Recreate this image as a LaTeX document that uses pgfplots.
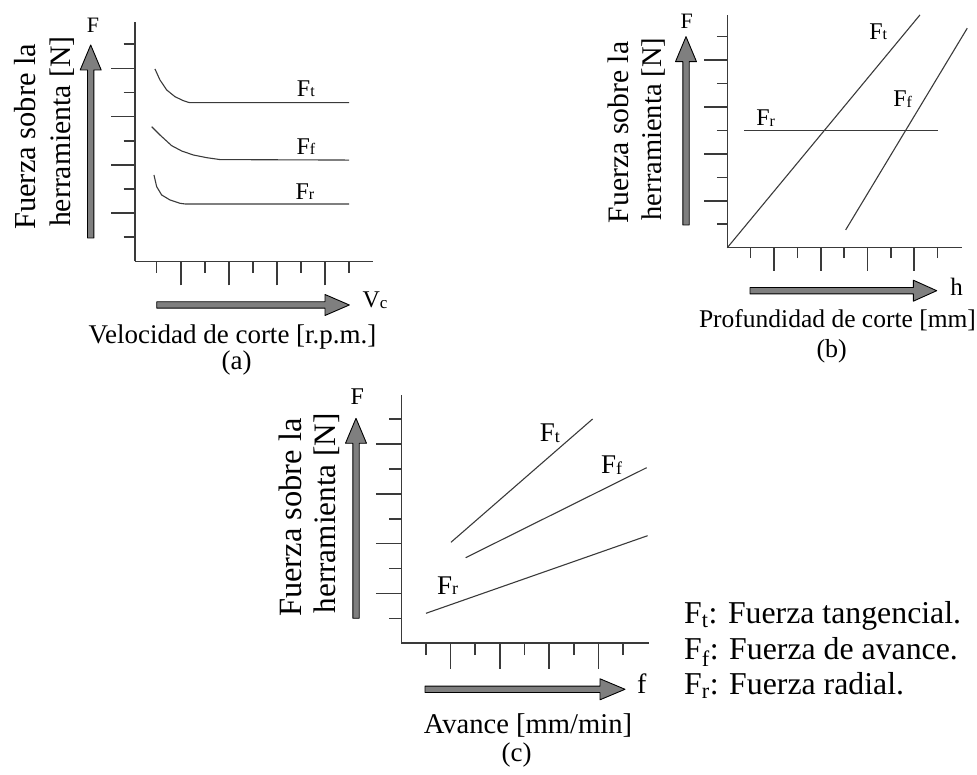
\documentclass[border=0pt]{standalone}
\usepackage{pgfplots}
\pgfplotsset{compat=1.18}
\usepackage{fontspec}
\setmainfont{Liberation Serif}
\definecolor{axgray}{HTML}{3A3A3A}
\definecolor{crv}{HTML}{3A3A3A}
\definecolor{arrfill}{HTML}{7F7F7F}
\newcommand{\fs}[1]{\fontsize{#1}{#1}\selectfont}
\newcommand{\Fl}[2]{F\raisebox{-0.5pt}{\fontsize{#2}{#2}\selectfont #1}}
\newcommand{\varrow}[4]{%
  \filldraw[fill=arrfill, draw=black, line width=0.9pt, line join=round]
  ({#1-3.2},#2) -- ({#1-3.2},#3) -- ({#1-10.5},#3) -- (#1,#4) -- ({#1+10.5},#3) -- ({#1+3.2},#3) -- ({#1+3.2},#2) -- cycle;}
\newcommand{\harrow}[4]{%
  \filldraw[fill=arrfill, draw=black, line width=0.9pt, line join=round]
  (#2,{#1+3.2}) -- (#3,{#1+3.2}) -- (#3,{#1+10.5}) -- (#4,#1) -- (#3,{#1-10.5}) -- (#3,{#1-3.2}) -- (#2,{#1-3.2}) -- cycle;}
\pgfplotsset{schem/.style={
  scale only axis, anchor=south west,
  axis x line=bottom, axis y line=left,
  axis line style={-, line width=1.6pt, color=axgray},
  xtick={2,4,6,8}, minor xtick={1,3,5,7,9},
  ytick={2,4,6,8}, minor ytick={1,3,5,7,9},
  xticklabels={}, yticklabels={},
  tick align=outside,
  major tick length=24pt, minor tick length=11.5pt,
  tick style={line width=1.6pt, color=axgray},
  clip=false,
}}
\begin{document}
\begin{tikzpicture}[x=1pt,y=1pt]
\path[use as bounding box] (0,0) rectangle (977,775);

% ---------- (a) ----------
\begin{axis}[schem, at={(135pt,513.6pt)}, width=238.3pt, height=239.8pt,
  xmin=0.1, xmax=10, ymin=0, ymax=9.94]
\addplot[crv, line width=1.1pt, line join=round] coordinates {
 (0.929,7.976) (1.137,7.521) (1.415,7.107) (1.760,6.828) (2.105,6.662) (2.313,6.596) (2.383,6.579) (9.0,6.579)};
\addplot[crv, line width=1.1pt, line join=round] coordinates {
 (0.792,5.585) (1.137,5.240) (1.623,4.797) (2.038,4.577) (2.520,4.411) (3.077,4.300) (3.629,4.22) (9.0,4.20)};
\addplot[crv, line width=1.1pt, line join=round] coordinates {
 (0.888,3.582) (1.0,3.097) (1.208,2.753) (1.552,2.546) (1.967,2.409) (2.176,2.380) (9.0,2.380)};
\node[font={\fs{24}}] at (axis cs:7.20,7.15) {\Fl{t}{16}};
\node[font={\fs{24}}] at (axis cs:7.20,4.76) {\Fl{f}{16}};
\node[font={\fs{24}}] at (axis cs:7.16,2.89) {\Fl{r}{16}};
\end{axis}
\varrow{90.7}{537}{705}{730}
\harrow{470}{156.7}{325}{349.3}
\node[font={\fs{22}}] at (93,750) {F};
\node[font={\fs{24}}] at (375,475) {V\raisebox{-0.5pt}{\fs{17}c}};
\node[font={\fs{27}}] at (232.5,438.3) {Velocidad de corte [r.p.m.]};
\node[font={\fs{27}}] at (236.7,412) {(a)};
\node[rotate=90, font={\fs{30.5}}] at (25,638.3) {Fuerza sobre la};
\node[rotate=90, font={\fs{29.7}}] at (61.7,643.3) {herramienta [N]};

% ---------- (b) ----------
\begin{axis}[schem, at={(727.3pt,527.3pt)}, width=234.9pt, height=232.9pt,
  xmin=0, xmax=10.05, ymin=0, ymax=9.93,
  major tick length=23pt, minor tick length=10.5pt]
\addplot[crv, line width=1.1pt] coordinates {(0,0) (8.243,9.925)};
\addplot[crv, line width=1.1pt] coordinates {(5.064,0.757) (10.266,9.358)};
\addplot[crv, line width=1.1pt] coordinates {(0.726,5) (9.0,5)};
\node[font={\fs{24}}] at (axis cs:6.458,9.214) {\Fl{t}{16}};
\node[font={\fs{24}}] at (axis cs:7.503,6.33) {\Fl{f}{16}};
\node[font={\fs{24}}] at (axis cs:1.642,5.52) {\Fl{r}{16}};
\end{axis}
\varrow{686}{550}{713.3}{738.3}
\harrow{484.3}{750}{913.3}{936.7}
\node[font={\fs{22}}] at (686.7,753.3) {F};
\node[font={\fs{25}}] at (956.7,488.3) {h};
\node[font={\fs{25.5}}] at (837.5,455) {Profundidad de corte [mm]};
\node[font={\fs{26}}] at (831.7,423.3) {(b)};
\node[rotate=90, font={\fs{29.7}}] at (618.3,642.5) {Fuerza sobre la};
\node[rotate=90, font={\fs{28.5}}] at (653.3,646) {herramienta [N]};

% ---------- (c) ----------
\begin{axis}[schem, at={(401.3pt,131.8pt)}, width=247.8pt, height=248.3pt,
  xmin=0, xmax=10.05, ymin=0, ymax=9.98,
  major tick length=25.5pt, minor tick length=12pt]
\addplot[crv, line width=1.1pt] coordinates {(2.014,4.055) (7.760,9.012)};
\addplot[crv, line width=1.1pt] coordinates {(2.610,3.436) (9.950,7.054)};
\addplot[crv, line width=1.1pt] coordinates {(1.0,1.201) (9.990,4.321)};
\node[font={\fs{27}}] at (axis cs:6.028,8.437) {\Fl{t}{18}};
\node[font={\fs{27}}] at (axis cs:8.530,7.163) {\Fl{f}{18}};
\node[font={\fs{27}}] at (axis cs:1.880,2.311) {\Fl{r}{18}};
\end{axis}
\varrow{356}{156.7}{331.7}{356.7}
\harrow{85.7}{425}{600}{625}
\node[font={\fs{24}}] at (357.3,378.3) {F};
\node[font={\fs{28}}] at (641.7,91.7) {f};
\node[font={\fs{28.6}}] at (528,50) {Avance [mm/min]};
\node[font={\fs{27}}] at (516.7,20) {(c)};
\node[rotate=90, font={\fs{32.5}}] at (290,257.5) {Fuerza sobre la};
\node[rotate=90, font={\fs{31.2}}] at (326.7,261.7) {herramienta [N]};

% ---------- legend text ----------
\node[anchor=base west, inner sep=0pt, font={\fs{31.8}}] at (684,151.7) {F\textsubscript{t}: Fuerza tangencial.};
\node[anchor=base west, inner sep=0pt, font={\fs{31.8}}] at (684,115.7) {F\textsubscript{f}: Fuerza de avance.};
\node[anchor=base west, inner sep=0pt, font={\fs{31.8}}] at (684,80) {F\textsubscript{r}: Fuerza radial.};
\end{tikzpicture}
\end{document}
